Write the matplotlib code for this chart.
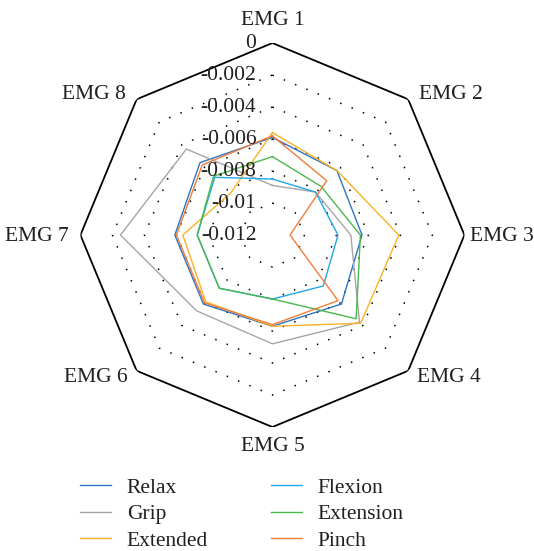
import numpy as np
import matplotlib
matplotlib.use("Agg")
import matplotlib.pyplot as plt
from matplotlib.transforms import offset_copy

plt.rcParams['font.family'] = ['Liberation Serif', 'DejaVu Serif']

axes_labels = ["EMG 1", "EMG 2", "EMG 3", "EMG 4", "EMG 5", "EMG 6", "EMG 7", "EMG 8"]
tick_values = [0, -0.002, -0.004, -0.006, -0.008, -0.01, -0.012]
tick_labels = ["0", "-0.002", "-0.004", "-0.006", "-0.008", "-0.01", "-0.012"]

series_names = ["Relax", "Grip", "Extended", "Flexion", "Extension", "Pinch"]
relax = [-0.0059, -0.0063, -0.0064, -0.0059, -0.0063, -0.0059, -0.0059, -0.0056]
grip = [-0.0089, -0.0082, -0.0071, -0.0043, -0.0052, -0.0053, -0.0025, -0.0044]
extended = [-0.0056, -0.0063, -0.0041, -0.0042, -0.0063, -0.0061, -0.0064, -0.0083]
flexion = [-0.0085, -0.0082, -0.0079, -0.0075, -0.0080, -0.0073, -0.0073, -0.0069]
extension = [-0.0071, -0.0077, -0.0065, -0.0046, -0.0080, -0.0073, -0.0073, -0.0068]
pinch = [-0.0058, -0.0072, -0.0109, -0.0062, -0.0064, -0.0060, -0.0060, -0.0058]
colors = ["#2f74c0", "#a6a6a6", "#fbb224", "#22a7e6", "#4bb749", "#f07d38"]

FS = 15.5

fig = plt.figure(figsize=(5.34, 5.51), dpi=100)
ax = fig.add_axes([0.1502, 0.2250, 0.7199, 0.6969], projection='polar')
ax.set_theta_zero_location('N')
ax.set_theta_direction(-1)
ax.set_rlim(-0.012, 0)
ax.grid(False)
ax.spines['polar'].set_visible(False)
ax.set_xticks([])
ax.set_yticks([])
ax.patch.set_visible(False)

n = len(axes_labels)
theta = np.arange(n) * 2 * np.pi / n
theta_c = np.append(theta, theta[0])

# dotted rings
for lv in tick_values[1:-1]:
    ax.plot(theta_c, [lv] * (n + 1), color='black', lw=1.1,
            linestyle=(0, (1, 7)), zorder=1)
# outer octagon
ax.plot(theta_c, [0] * (n + 1), color='black', lw=1.3, zorder=2,
        solid_joinstyle='miter')

all_series = [relax, grip, extended, flexion, extension, pinch]
for name, vals, c in zip(series_names, all_series, colors):
    v = list(vals) + [vals[0]]
    ax.plot(theta_c, v, color=c, lw=1.0, label=name, zorder=3)

# radial tick labels
tr = offset_copy(ax.transData, fig=fig, x=-16, y=0, units='dots')
for lv, lab in zip(tick_values, tick_labels):
    ax.text(0, lv, lab, transform=tr, ha='right', va='center', fontsize=FS,
            color='#231f20', zorder=4)

# axis labels
offsets = [(0, 23, 'center'), (11, 5, 'left'), (6, -1, 'left'), (9, -7, 'left'),
           (0, -19, 'center'), (-9, -7, 'right'), (-12, -1, 'right'), (-11, 5, 'right')]
for t, lab, (dx, dy, ha) in zip(theta, axes_labels, offsets):
    ax.annotate(lab, xy=(t, 0), xytext=(dx, dy), textcoords='offset pixels',
                ha=ha, va='center', fontsize=FS, color='#231f20',
                annotation_clip=False)

leg = fig.legend(loc='upper left', bbox_to_anchor=(0.1498, 0.133), ncol=2,
                 frameon=False, fontsize=FS, handlelength=1.45,
                 handletextpad=0.72, columnspacing=2.93, labelspacing=0.30,
                 borderpad=0, borderaxespad=0)
for t in leg.get_texts():
    t.set_color('#231f20')

fig.savefig("out.png", dpi=100)
